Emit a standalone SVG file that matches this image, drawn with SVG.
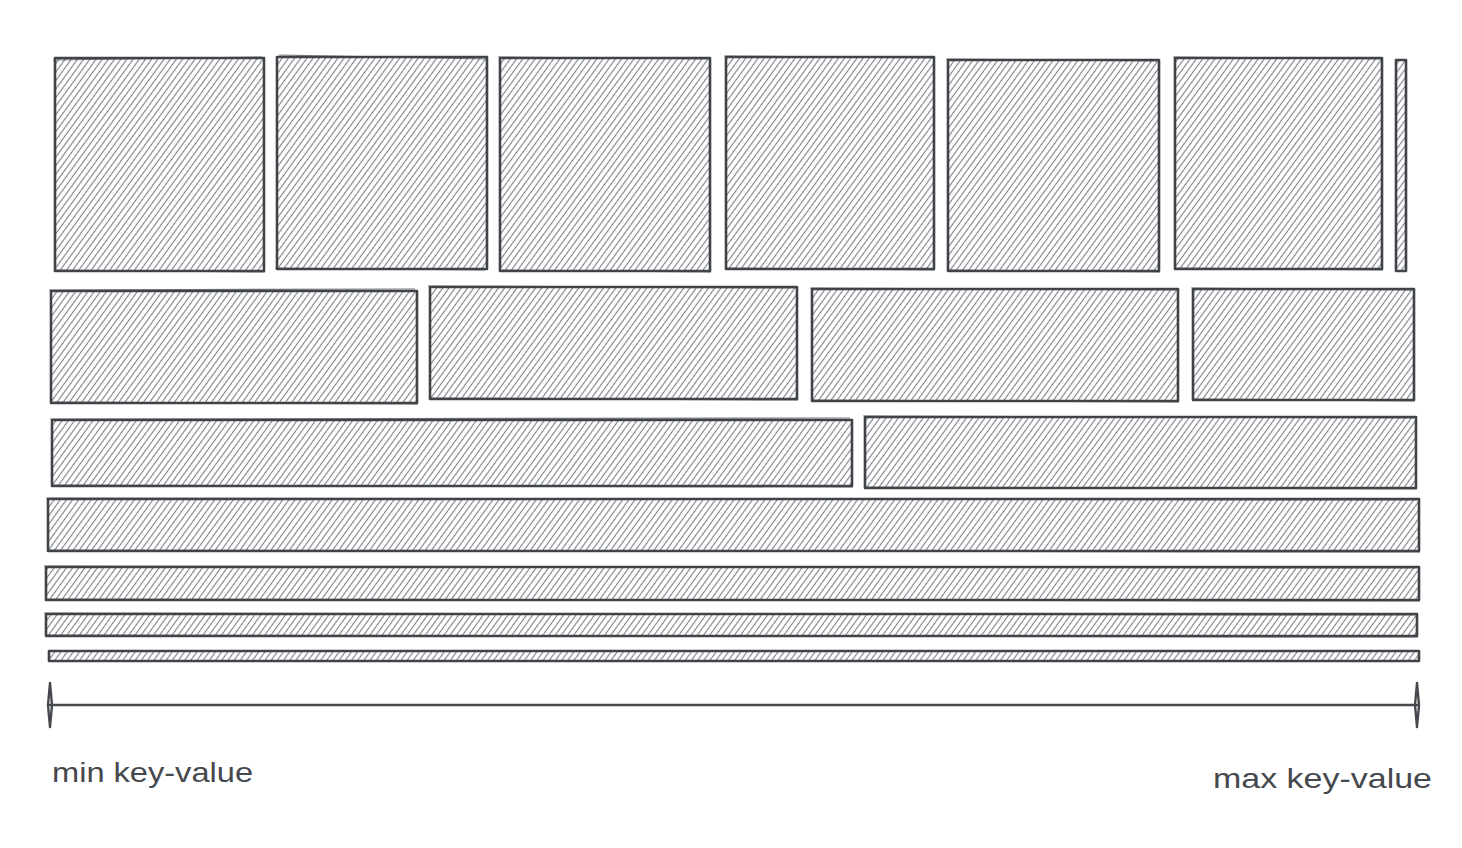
<svg xmlns="http://www.w3.org/2000/svg" width="1462" height="848" viewBox="0 0 1462 848">
<style>
.b{fill:url(#h);stroke:#404448;stroke-width:2.6;stroke-linejoin:round}
.s{fill:none;stroke:#404448;stroke-width:1.2;opacity:.7}
.ax{fill:none;stroke:#45494e;stroke-width:2.4;stroke-linecap:round}
.t{font-family:"Comic Sans MS","Liberation Sans",sans-serif;font-size:28px;fill:#45494e}
</style>
<defs>
<pattern id="h" width="5" height="10" patternUnits="userSpaceOnUse" patternTransform="rotate(36)">
<line x1="2.5" y1="0" x2="2.5" y2="10" stroke="#7f8388" stroke-width="1.15"/>
</pattern>
</defs>
<rect width="1462" height="848" fill="#ffffff"/>
<g id="row1">
<g id="n1"><rect class="b" x="55" y="58" width="209" height="213"/><path class="s" d="M53,60 L262,57 M56,270 L265,272"/></g>
<g id="n2"><rect class="b" x="277" y="57" width="210" height="212"/><path class="s" d="M279,55 L487,59 M275,268 L485,270"/></g>
<g id="n3"><rect class="b" x="500" y="58" width="210" height="213"/><path class="s" d="M498,57 L708,59 M502,270 L711,272"/></g>
<g id="n4"><rect class="b" x="726" y="57" width="208" height="212"/><path class="s" d="M724,56 L933,58 M727,268 L935,270"/></g>
<g id="n5"><rect class="b" x="948" y="60" width="211" height="211"/><path class="s" d="M946,59 L1157,61 M949,270 L1160,272"/></g>
<g id="n6"><rect class="b" x="1175" y="58" width="207" height="211"/><path class="s" d="M1173,57 L1381,59 M1176,268 L1383,270"/></g>
<g id="n7"><rect class="b" x="1396" y="60" width="10" height="211"/></g>
</g>
<g id="row2">
<g id="n8"><rect class="b" x="51" y="291" width="366" height="112"/><path class="s" d="M49,290 L415,289 M52,402 L418,404"/></g>
<g id="n9"><rect class="b" x="430" y="287" width="367" height="112"/><path class="s" d="M428,286 L795,288 M431,398 L798,400"/></g>
<g id="n10"><rect class="b" x="812" y="289" width="366" height="112"/><path class="s" d="M810,288 L1176,290 M813,400 L1179,402"/></g>
<g id="n11"><rect class="b" x="1193" y="289" width="221" height="111"/><path class="s" d="M1191,288 L1412,290 M1194,399 L1415,401"/></g>
</g>
<g id="row3">
<g id="n12"><rect class="b" x="52" y="420" width="800" height="66"/><path class="s" d="M50,419 L850,418 M53,485 L853,487"/></g>
<g id="n13"><rect class="b" x="865" y="417" width="551" height="71"/><path class="s" d="M863,416 L1414,418 M866,487 L1417,489"/></g>
</g>
<g id="n14"><rect class="b" x="48" y="499" width="1371" height="52"/><path class="s" d="M46,498 L1417,500 M49,550 L1420,552"/></g>
<g id="n15"><rect class="b" x="46" y="567" width="1373" height="33"/><path class="s" d="M44,566 L1417,568 M47,599 L1420,601"/></g>
<g id="n16"><rect class="b" x="46" y="614" width="1371" height="22"/><path class="s" d="M44,613 L1415,615 M47,635 L1418,637"/></g>
<g id="n17"><rect class="b" x="49" y="651" width="1370" height="10"/></g>
<g id="connectors">
<path class="ax" d="M50,705 L1417,705"/>
<path class="ax" d="M50,683 L52,705 L50,727 M50,683 L48,705 L50,727"/>
<path class="ax" d="M1417,683 L1419,705 L1417,727 M1417,683 L1415,705 L1417,727"/>
</g>
<g id="labels">
<text class="t" x="52" y="782" textLength="201" lengthAdjust="spacingAndGlyphs">min key-value</text>
<text class="t" x="1213" y="788" textLength="219" lengthAdjust="spacingAndGlyphs">max key-value</text>
</g>
</svg>
